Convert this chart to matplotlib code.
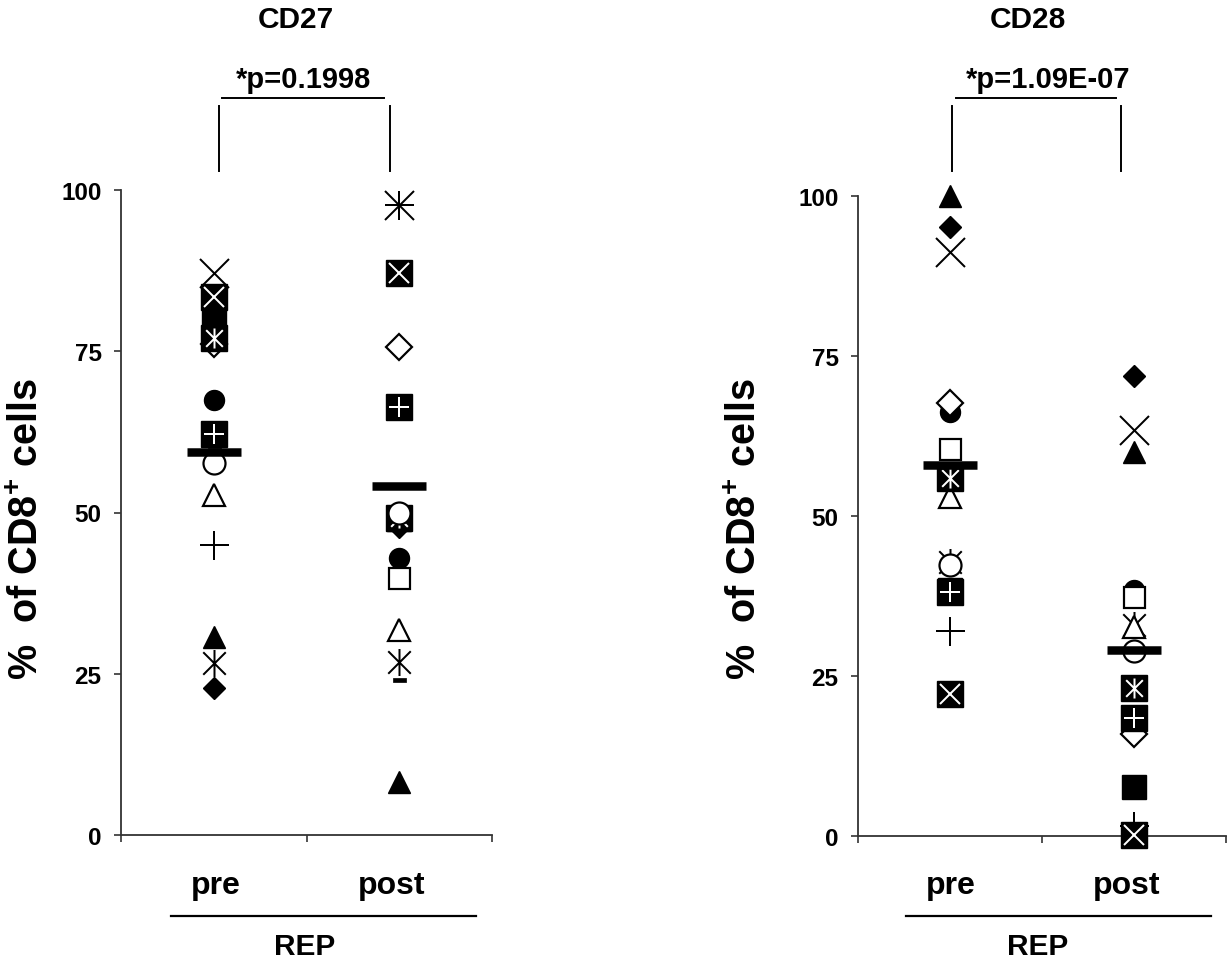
import matplotlib
matplotlib.use("Agg")
import matplotlib.pyplot as plt
from matplotlib.path import Path
from matplotlib.lines import Line2D

plt.rcParams['font.family'] = ['Liberation Sans', 'DejaVu Sans']
plt.rcParams['font.weight'] = 'bold'
plt.rcParams['mathtext.fontset'] = 'custom'
plt.rcParams['mathtext.rm'] = 'Liberation Sans:bold'
plt.rcParams['mathtext.bf'] = 'Liberation Sans:bold'

# ---------------- data ----------------
categories = ["pre", "post"]
marker_kinds = ["filled_diamond", "filled_square", "filled_triangle", "x_cross", "asterisk",
                "filled_circle", "plus", "dash", "open_diamond", "open_square",
                "open_triangle", "open_circle", "square_x", "square_asterisk", "square_plus"]

# CD27 (% of CD8+ cells), [pre, post] per patient marker
cd27_pre  = [22.8, 80.3, 30.7, 87.2, 26.7, 67.4, 45.0, 60.3, 76.2, 62.0, 52.7, 57.7, 83.4, 77.0, 62.2]
cd27_post = [47.8, 49.0,  8.2, 97.7, 26.8, 43.0, 97.7, 24.0, 75.7, 39.8, 31.8, 49.9, 87.1, 49.2, 66.4]
cd27_mean = [59.4, 54.1]

# CD28 (% of CD8+ cells)
cd28_pre  = [95.2, 38.5, 100.0, 91.3, 42.8, 66.3, 32.0, 58.0, 67.7, 60.4, 53.0, 42.4, 22.2, 56.0, 38.2]
cd28_post = [71.8,  7.6,  60.0, 63.5, 33.0, 38.5,  1.6, 29.0, 16.0, 37.4, 32.6, 28.9,  0.2, 23.2, 18.4]
cd28_mean = [58.0, 29.0]

titles = ["CD27", "CD28"]
pvals = ["*p=0.1998", "*p=1.09E-07"]
yticks = [0, 25, 50, 75, 100]
ylabel = r"%  of CD8$^{+}$ cells"
group_label = "REP"

# ---------------- styling ----------------
PX = 72.0 / 100.0  # points per pixel at dpi 100

ast_path = Path([(-1, -1), (1, 1), (-1, 1), (1, -1), (0, -1.2), (0, 1.2)],
                [Path.MOVETO, Path.LINETO, Path.MOVETO, Path.LINETO, Path.MOVETO, Path.LINETO])
dash_path = Path([(-1, -0.3), (1, -0.3), (1, 0.3), (-1, 0.3), (-1, -0.3)],
                 [Path.MOVETO, Path.LINETO, Path.LINETO, Path.LINETO, Path.CLOSEPOLY])

# drawing order (later = on top)
z_order = {"filled_diamond": 3, "filled_square": 4, "filled_triangle": 5, "x_cross": 6,
           "asterisk": 7, "filled_circle": 8, "plus": 9, "dash": 10, "open_diamond": 11,
           "open_square": 12, "open_triangle": 13, "square_x": 14, "square_asterisk": 15,
           "square_plus": 16, "open_circle": 18}


def draw(ax, xs, ys, kind, z):
    k = dict(linestyle="none", zorder=z, clip_on=False)
    if kind == "filled_diamond":
        ax.plot(xs, ys, marker="D", ms=16 * PX, mfc="black", mec="black", mew=1, **k)
    elif kind == "filled_square":
        ax.plot(xs, ys, marker="s", ms=24 * PX, mfc="black", mec="black", mew=1, **k)
    elif kind == "filled_triangle":
        ax.plot(xs, ys, marker="^", ms=22 * PX, mfc="black", mec="black", mew=1, **k)
    elif kind == "x_cross":
        ax.plot(xs, ys, marker="x", ms=29 * PX, mec="black", mew=2 * PX, **k)
    elif kind == "asterisk":
        ax.plot(xs, ys, marker=ast_path, ms=27 * PX, mec="black", mfc="none", mew=2 * PX, **k)
    elif kind == "filled_circle":
        ax.plot(xs, ys, marker="o", ms=20 * PX, mfc="black", mec="black", mew=1, **k)
    elif kind == "plus":
        ax.plot(xs, ys, marker="+", ms=29 * PX, mec="black", mew=2 * PX, **k)
    elif kind == "dash":
        ax.plot(xs, ys, marker=dash_path, ms=13 * PX, mfc="black", mec="black", mew=0.5, **k)
    elif kind == "open_diamond":
        ax.plot(xs, ys, marker="D", ms=18 * PX, mfc="white", mec="black", mew=2.2 * PX, **k)
    elif kind == "open_square":
        ax.plot(xs, ys, marker="s", ms=21 * PX, mfc="white", mec="black", mew=2.2 * PX, **k)
    elif kind == "open_triangle":
        ax.plot(xs, ys, marker="^", ms=23 * PX, mfc="white", mec="black", mew=2.2 * PX, **k)
    elif kind == "open_circle":
        ax.plot(xs, ys, marker="o", ms=22 * PX, mfc="white", mec="black", mew=2.2 * PX, **k)
    elif kind in ("square_x", "square_asterisk", "square_plus"):
        ax.plot(xs, ys, marker="s", ms=26 * PX, mfc="black", mec="black", mew=1, **k)
        inner = {"square_x": "x", "square_asterisk": ast_path, "square_plus": "+"}[kind]
        k2 = dict(k)
        k2["zorder"] = z + 0.5
        ax.plot(xs, ys, marker=inner, ms=20 * PX, mec="white", mfc="none", mew=2 * PX, **k2)


fig = plt.figure(figsize=(12.27, 9.62), dpi=100)
W, H = 1227.0, 962.0


def fx(px):
    return px / W


def fy(py):
    return 1 - py / H


panels = [
    dict(pre=cd27_pre, post=cd27_post, mean=cd27_mean, x0=121, x1=492, y0=836, y100=191,
         title_x=296, p_x=303, hline=(222, 384), vlines=(219, 390), cat_x=(216, 392),
         rep_line=(171, 476), rep_x=305, ylab_x=27),
    dict(pre=cd28_pre, post=cd28_post, mean=cd28_mean, x0=858, x1=1226, y0=837, y100=197,
         title_x=1028, p_x=1048, hline=(956, 1116), vlines=(952, 1121), cat_x=(951, 1127),
         rep_line=(906, 1211), rep_x=1038, ylab_x=745),
]

for i, p in enumerate(panels):
    ax = fig.add_axes([fx(p["x0"]), fy(p["y0"]), fx(p["x1"] - p["x0"]), (p["y0"] - p["y100"]) / H])
    ax.set_xlim(0.5, 2.5)
    ax.set_ylim(0, 100)
    for s in ("top", "right"):
        ax.spines[s].set_visible(False)
    for s in ("left", "bottom"):
        ax.spines[s].set_linewidth(1.3)
        ax.spines[s].set_color("#333333")
    ax.set_yticks(yticks)
    ax.set_yticklabels([str(t) for t in yticks], fontsize=17.5, fontweight="bold")
    ax.set_xticks([0.5, 1.5, 2.5])
    ax.set_xticklabels([])
    ax.tick_params(axis="both", direction="out", length=5, width=1.2, color="#333333", pad=9)

    for j, kind in enumerate(marker_kinds):
        draw(ax, [1, 2], [p["pre"][j], p["post"][j]], kind, z_order[kind])
    ax.plot([1, 2], p["mean"], linestyle="none", marker="_", ms=54 * PX, mew=8.5 * PX,
            mec="black", zorder=30, clip_on=False)

    # titles and p-value bracket
    fig.text(fx(p["title_x"]), fy(28), titles[i], ha="center", va="baseline",
             fontsize=21.5, fontweight="bold")
    fig.text(fx(p["p_x"]), fy(88), pvals[i], ha="center", va="baseline",
             fontsize=21, fontweight="bold")
    fig.add_artist(Line2D([fx(p["hline"][0]), fx(p["hline"][1])], [fy(99), fy(99)],
                          color="black", lw=1.4))
    for vx in p["vlines"]:
        fig.add_artist(Line2D([fx(vx), fx(vx)], [fy(107), fy(172)], color="black", lw=1.4))

    # category labels
    for c, cx in zip(categories, p["cat_x"]):
        fig.text(fx(cx), fy(894), c, ha="center", va="baseline", fontsize=23, fontweight="bold")
    fig.add_artist(Line2D([fx(p["rep_line"][0]), fx(p["rep_line"][1])], [fy(917), fy(917)],
                          color="black", lw=1.6))
    fig.text(fx(p["rep_x"]), fy(955), group_label, ha="center", va="baseline",
             fontsize=21.5, fontweight="bold")

    # y label
    fig.text(fx(p["ylab_x"]), fy(529), ylabel, ha="center", va="center", rotation=90,
             fontsize=28.5, fontweight="bold")

fig.savefig("out.png", dpi=100)
